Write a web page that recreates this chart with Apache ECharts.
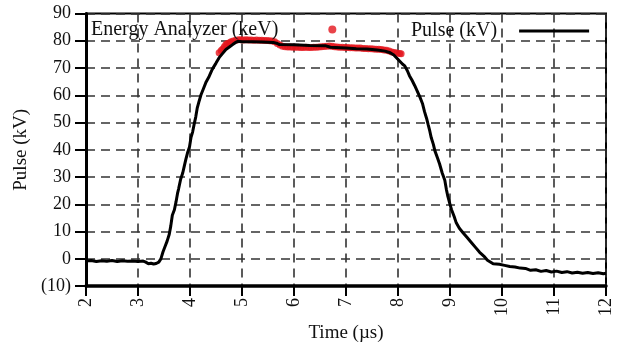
<!DOCTYPE html>
<html>
<head>
<meta charset="utf-8">
<script src="https://cdn.jsdelivr.net/npm/echarts@6/dist/echarts.min.js"></script>
<style>
html,body{margin:0;padding:0;background:#fff;}
#chart{width:618px;height:348px;}
</style>
</head>
<body>
<div id="chart"></div>
<script>
var xTicks = [2,3,4,5,6,7,8,9,10,11,12];
var yTicks = [-10,0,10,20,30,40,50,60,70,80,90];

var pulseTime = [2.00,2.10,2.20,2.30,2.40,2.50,2.60,2.70,2.80,2.90,3.00,3.10,3.15,3.20,3.25,3.30,3.35,3.40,3.44,3.48,3.52,3.56,3.60,3.63,3.66,3.70,3.73,3.76,3.78,3.82,3.86,3.89,3.92,3.95,3.99,4.02,4.05,4.08,4.11,4.14,4.17,4.21,4.26,4.31,4.37,4.43,4.50,4.56,4.62,4.69,4.75,4.82,4.87,4.92,5.00,5.20,5.40,5.60,5.68,5.72,6.00,6.30,6.60,6.70,6.90,7.00,7.20,7.40,7.60,7.75,7.85,7.92,7.97,8.03,8.09,8.13,8.18,8.22,8.27,8.32,8.37,8.42,8.47,8.51,8.55,8.58,8.61,8.64,8.68,8.71,8.76,8.80,8.85,8.90,8.93,8.96,9.00,9.03,9.08,9.12,9.18,9.25,9.33,9.41,9.49,9.57,9.65,9.72,9.83,9.95,10.05,10.15,10.25,10.35,10.45,10.55,10.65,10.75,10.85,10.95,11.05,11.15,11.25,11.35,11.45,11.55,11.65,11.75,11.85,11.95,12.00];
var pulseKV = [-0.8,-0.6,-1.0,-0.7,-0.9,-0.6,-1.0,-0.7,-0.9,-0.8,-1.0,-0.8,-1.2,-1.8,-1.6,-1.9,-1.7,-1.2,0.0,2.5,4.5,6.5,8.9,12.0,16.0,18.0,20.8,24.0,25.6,29.2,31.5,34.0,36.5,38.7,41.0,44.6,46.5,49.4,52.0,55.4,57.5,60.1,62.5,64.9,67.0,69.6,71.8,73.8,75.2,76.8,77.6,78.6,79.3,79.8,79.6,79.6,79.5,79.4,79.0,78.6,78.5,78.3,78.2,77.6,77.4,77.3,77.1,77.0,76.6,76.2,75.6,74.8,73.8,72.6,71.4,70.8,69.0,67.2,65.5,63.6,61.5,59.4,57.0,54.0,51.5,49.2,47.0,44.4,42.0,39.6,37.0,34.8,31.5,28.8,25.5,22.8,20.0,18.0,15.5,13.2,11.2,9.6,7.8,6.0,4.2,2.4,1.0,-0.5,-1.8,-2.0,-2.4,-2.8,-3.0,-3.4,-3.5,-4.2,-4.0,-4.6,-4.3,-4.8,-4.5,-5.0,-4.7,-5.2,-4.9,-5.3,-5.0,-5.4,-5.1,-5.5,-5.3];

var energyTime = [4.56,4.60,4.63,4.66,4.69,4.72,4.76,4.79,4.83,4.88,4.93,4.98,5.03,5.08,5.13,5.18,5.23,5.28,5.33,5.38,5.43,5.48,5.53,5.58,5.63,5.68,5.73,5.78,5.83,5.88,5.93,5.98,6.03,6.08,6.13,6.18,6.23,6.28,6.33,6.38,6.43,6.48,6.53,6.58,6.63,6.68,6.73,6.78,6.83,6.88,6.93,6.98,7.03,7.08,7.13,7.18,7.23,7.28,7.33,7.38,7.43,7.48,7.53,7.58,7.63,7.68,7.73,7.78,7.83,7.88,7.93,7.98,8.03,8.06];
var energyKeV = [75.6,76.4,77.0,77.8,78.6,79.0,79.3,79.6,79.9,80.2,80.4,80.4,80.3,80.4,80.3,80.3,80.2,80.3,80.2,80.2,80.1,80.1,80.0,79.9,79.6,79.0,78.4,78.0,77.8,77.7,77.7,77.6,77.6,77.6,77.5,77.5,77.6,77.5,77.5,77.6,77.6,77.7,77.8,77.9,78.0,78.1,78.0,77.8,77.7,77.6,77.6,77.5,77.5,77.4,77.4,77.3,77.3,77.3,77.2,77.2,77.1,77.1,77.0,76.9,76.9,76.8,76.6,76.5,76.2,75.9,75.7,75.5,75.3,75.2];

var FONT = 'Liberation Serif';
var pulseData = pulseTime.map(function(t,i){return [t,pulseKV[i]];});
var energyData = energyTime.map(function(t,i){return [t,energyKeV[i]];});

var grid = {left:86, right:12, top:13.5, bottom:55, show:true, borderColor:'#000', borderWidth:2, containLabel:false};
var dash = {show:true, lineStyle:{color:'#333', width:1.6, type:[9,6]}};

var chart = echarts.init(document.getElementById('chart'), null, {renderer:'canvas'});
chart.setOption({
  animation:false,
  backgroundColor:'#fff',
  grid:grid,
  legend:[
    {data:[{name:'Energy Analyzer (keV)', icon:'circle'}], left:91, top:19.5, padding:0, align:'right',
     itemWidth:8, itemHeight:8, selectedMode:false,
     itemStyle:{color:'#e3141b'},
     textStyle:{fontFamily:FONT, fontSize:20, color:'#111', padding:[0,45,0,0]}},
    {data:[{name:'Pulse (kV)', icon:'rect'}], left:411, top:21, padding:0, align:'right',
     itemWidth:70, itemHeight:3, selectedMode:false,
     itemStyle:{color:'#000', borderWidth:0},
     textStyle:{fontFamily:FONT, fontSize:20, color:'#111', padding:[0,17,0,0]}}
  ],
  xAxis:{
    type:'value', min:xTicks[0], max:xTicks[xTicks.length-1], interval:1,
    name:'Time (\u00b5s)', nameLocation:'middle', nameGap:34,
    nameTextStyle:{fontFamily:FONT, fontSize:19, color:'#111'},
    axisLine:{show:true, onZero:false, lineStyle:{color:'#000', width:3.5}},
    axisTick:{show:true, inside:false, length:10, lineStyle:{color:'#000', width:2}},
    axisLabel:{rotate:90, margin:12, fontFamily:FONT, fontSize:18, color:'#111'},
    splitLine:dash
  },
  yAxis:{
    type:'value', min:yTicks[0], max:yTicks[yTicks.length-1], interval:10,
    name:'Pulse (kV)', nameLocation:'middle', nameGap:55,
    nameTextStyle:{fontFamily:FONT, fontSize:19, color:'#111'},
    axisLine:{show:true, lineStyle:{color:'#000', width:3}},
    axisTick:{show:true, inside:false, length:11, lineStyle:{color:'#000', width:2}},
    axisLabel:{margin:15, fontFamily:FONT, fontSize:18, color:'#111',
      formatter:function(v){return v<0 ? '('+Math.abs(v)+')' : String(v);}},
    splitLine:dash
  },
  series:[
    {name:'Energy Analyzer (keV)', type:'scatter', data:energyData, symbol:'circle', symbolSize:7,
     itemStyle:{color:'#e3141b'}, z:2},
    {name:'Pulse (kV)', type:'line', data:pulseData, symbol:'none', smooth:false,
     lineStyle:{color:'#000', width:3}, itemStyle:{color:'#000'}, z:3}
  ]
});
</script>
</body>
</html>
